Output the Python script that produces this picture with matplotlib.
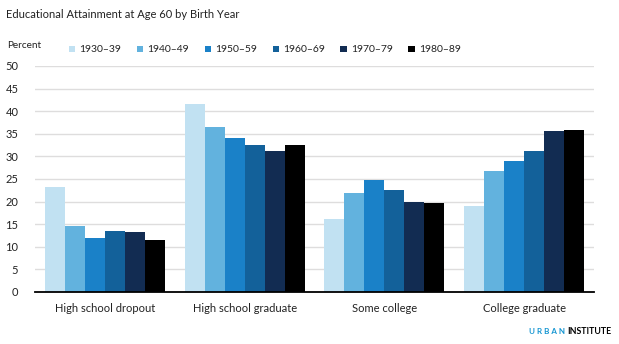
import matplotlib
matplotlib.use("Agg")
import matplotlib.pyplot as plt
import numpy as np

categories = ["High school dropout", "High school graduate", "Some college", "College graduate"]
series_names = ["1930\u201339", "1940\u201349", "1950\u201359", "1960\u201369", "1970\u201379", "1980\u201389"]
v1930 = [23.2, 41.6, 16.2, 19.0]
v1940 = [14.6, 36.5, 21.9, 26.8]
v1950 = [11.9, 34.1, 24.8, 29.0]
v1960 = [13.5, 32.5, 22.6, 31.2]
v1970 = [13.3, 31.2, 19.9, 35.6]
v1980 = [11.5, 32.5, 19.7, 35.8]
series = [v1930, v1940, v1950, v1960, v1970, v1980]
colors = ["#c1e1f2", "#62b2de", "#1a81c8", "#13619a", "#122c52", "#000000"]
yticks = [0, 5, 10, 15, 20, 25, 30, 35, 40, 45, 50]

plt.rcParams['font.family'] = ['Lato', 'DejaVu Sans']

W, H = 619, 344
fig = plt.figure(figsize=(W/100, H/100), dpi=100)
left, right, top, bottom = 35, 594, 66, 292
ax = fig.add_axes([left/W, 1 - bottom/H, (right-left)/W, (bottom-top)/H])

x = np.arange(len(categories))
bw = 1/7
for i, (vals, c, name) in enumerate(zip(series, colors, series_names)):
    ax.bar(x + (i - 2.5)*bw, vals, width=bw, color=c, label=name, zorder=2, linewidth=0)

ax.set_xlim(-0.5, 3.5)
ax.set_ylim(0, 50)
ax.set_yticks(yticks)
ax.set_yticklabels([str(t) for t in yticks], fontsize=8, color="#222222")
ax.set_xticks(x)
ax.set_xticklabels(categories, fontsize=8, color="#222222")
ax.tick_params(axis='both', length=0)
ax.tick_params(axis='y', pad=12)
ax.tick_params(axis='x', pad=8)
ax.grid(axis='y', color="#dedddd", linewidth=1, zorder=0)
for s in ['top', 'right', 'left']:
    ax.spines[s].set_visible(False)
ax.spines['bottom'].set_color('black')
ax.spines['bottom'].set_linewidth(1.3)
ax.spines['bottom'].set_zorder(3)

fig.text(6/W, 1 - 15/H, "Educational Attainment at Age 60 by Birth Year", fontsize=8.0,
         color="#222222", va='center', ha='left')
fig.text(7/W, 1 - 46/H, "Percent", fontsize=7.2, color="#222222", va='center', ha='left')

leg = fig.legend(loc='center left', bbox_to_anchor=(69/W, 1 - 50/H), ncol=6, frameon=False,
                 fontsize=7.5, handlelength=0.6, handleheight=0.6, handletextpad=0.4,
                 columnspacing=1.5, borderaxespad=0, borderpad=0)
for t in leg.get_texts():
    t.set_color("#222222")

fig.text(565/W, 1 - 331/H, "U R B A N", fontsize=5.8, color="#1696d2", fontweight='bold',
         va='center', ha='right')
fig.text(567/W, 1 - 331/H, "INSTITUTE", fontsize=6.3, color="#000000", fontweight='bold',
         va='center', ha='left')

fig.savefig("out.png", dpi=100)
